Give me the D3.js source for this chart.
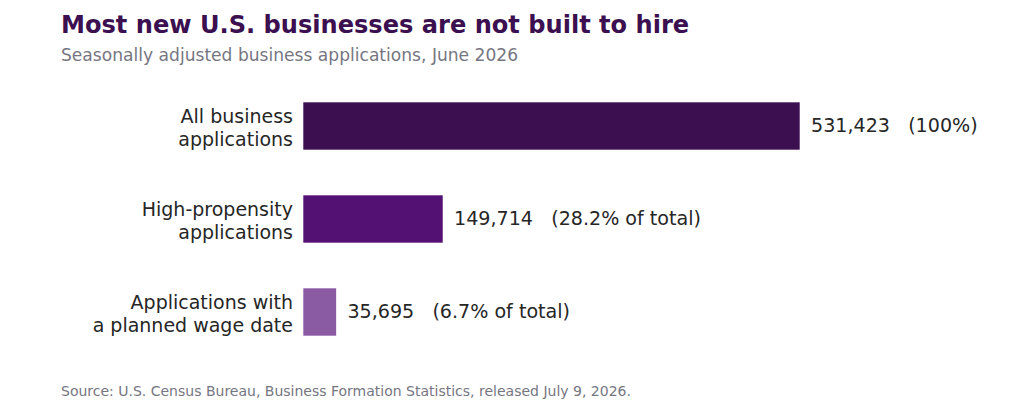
<!DOCTYPE html>
<html>
<head>
<meta charset="utf-8">
<script src="https://cdn.jsdelivr.net/npm/d3@7"></script>
<style>
  body { margin: 0; background: #fff; }
  text { font-family: "DejaVu Sans", sans-serif; }
</style>
</head>
<body>
<div id="chart"></div>
<script>
const d3 = window.d3;

// data
const categories = [
  ["All business", "applications"],
  ["High-propensity", "applications"],
  ["Applications with", "a planned wage date"],
];
const values = [531423, 149714, 35695];
const shareLabels = ["(100%)", "(28.2% of total)", "(6.7% of total)"];
const barColors = ["#3b0f50", "#541174", "#8a5aa3"];

const WIDTH = 1011;
const HEIGHT = 411;
const MARGIN = { left: 303, right: 211, top: 102, bottom: 75 };

const svg = d3
  .select("#chart")
  .append("svg")
  .attr("width", WIDTH)
  .attr("height", HEIGHT);

const x = d3
  .scaleLinear()
  .domain([0, d3.max(values)])
  .range([MARGIN.left, WIDTH - MARGIN.right]);

const y = d3
  .scaleBand()
  .domain(d3.range(values.length))
  .range([MARGIN.top - 22.5, HEIGHT - MARGIN.bottom + 22.5])
  .paddingInner(0.484)
  .paddingOuter(0.242);

svg
  .append("text")
  .attr("x", 61)
  .attr("y", 33)
  .attr("fill", "#3b0f50")
  .style("font-size", "24.1px")
  .style("font-weight", "bold")
  .text("Most new U.S. businesses are not built to hire");

svg
  .append("text")
  .attr("x", 61)
  .attr("y", 61)
  .attr("fill", "#767682")
  .style("font-size", "17.1px")
  .text("Seasonally adjusted business applications, June 2026");

const rows = values.map((v, i) => ({ i, v, lines: categories[i], share: shareLabels[i], color: barColors[i] }));

svg
  .append("g")
  .selectAll("rect")
  .data(rows)
  .join("rect")
  .attr("x", x(0))
  .attr("y", (d) => y(d.i))
  .attr("width", (d) => x(d.v) - x(0))
  .attr("height", y.bandwidth())
  .attr("fill", (d) => d.color)
  .attr("stroke", "#ffffff")
  .attr("stroke-width", 0.6);

const labels = svg
  .append("g")
  .selectAll("text")
  .data(rows)
  .join("text")
  .attr("text-anchor", "end")
  .attr("fill", "#262626")
  .style("font-size", "19px");

labels
  .selectAll("tspan")
  .data((d) => d.lines.map((t, k) => ({ t, k, d })))
  .join("tspan")
  .attr("x", x(0) - 10)
  .attr("y", (e) => y(e.d.i) + y.bandwidth() / 2 - 3 + e.k * 22.5)
  .text((e) => e.t);

svg
  .append("g")
  .selectAll("text")
  .data(rows)
  .join("text")
  .attr("x", (d) => x(d.v) + 11)
  .attr("y", (d) => y(d.i) + y.bandwidth() / 2)
  .attr("dy", "0.33em")
  .attr("fill", "#262626")
  .style("font-size", "19.1px")
  .style("white-space", "pre")
  .text((d) => `${d3.format(",")(d.v)}\u00a0\u00a0\u00a0${d.share}`);

svg
  .append("text")
  .attr("x", 61)
  .attr("y", 396)
  .attr("fill", "#767682")
  .style("font-size", "14px")
  .text("Source: U.S. Census Bureau, Business Formation Statistics, released July 9, 2026.");
</script>
</body>
</html>
